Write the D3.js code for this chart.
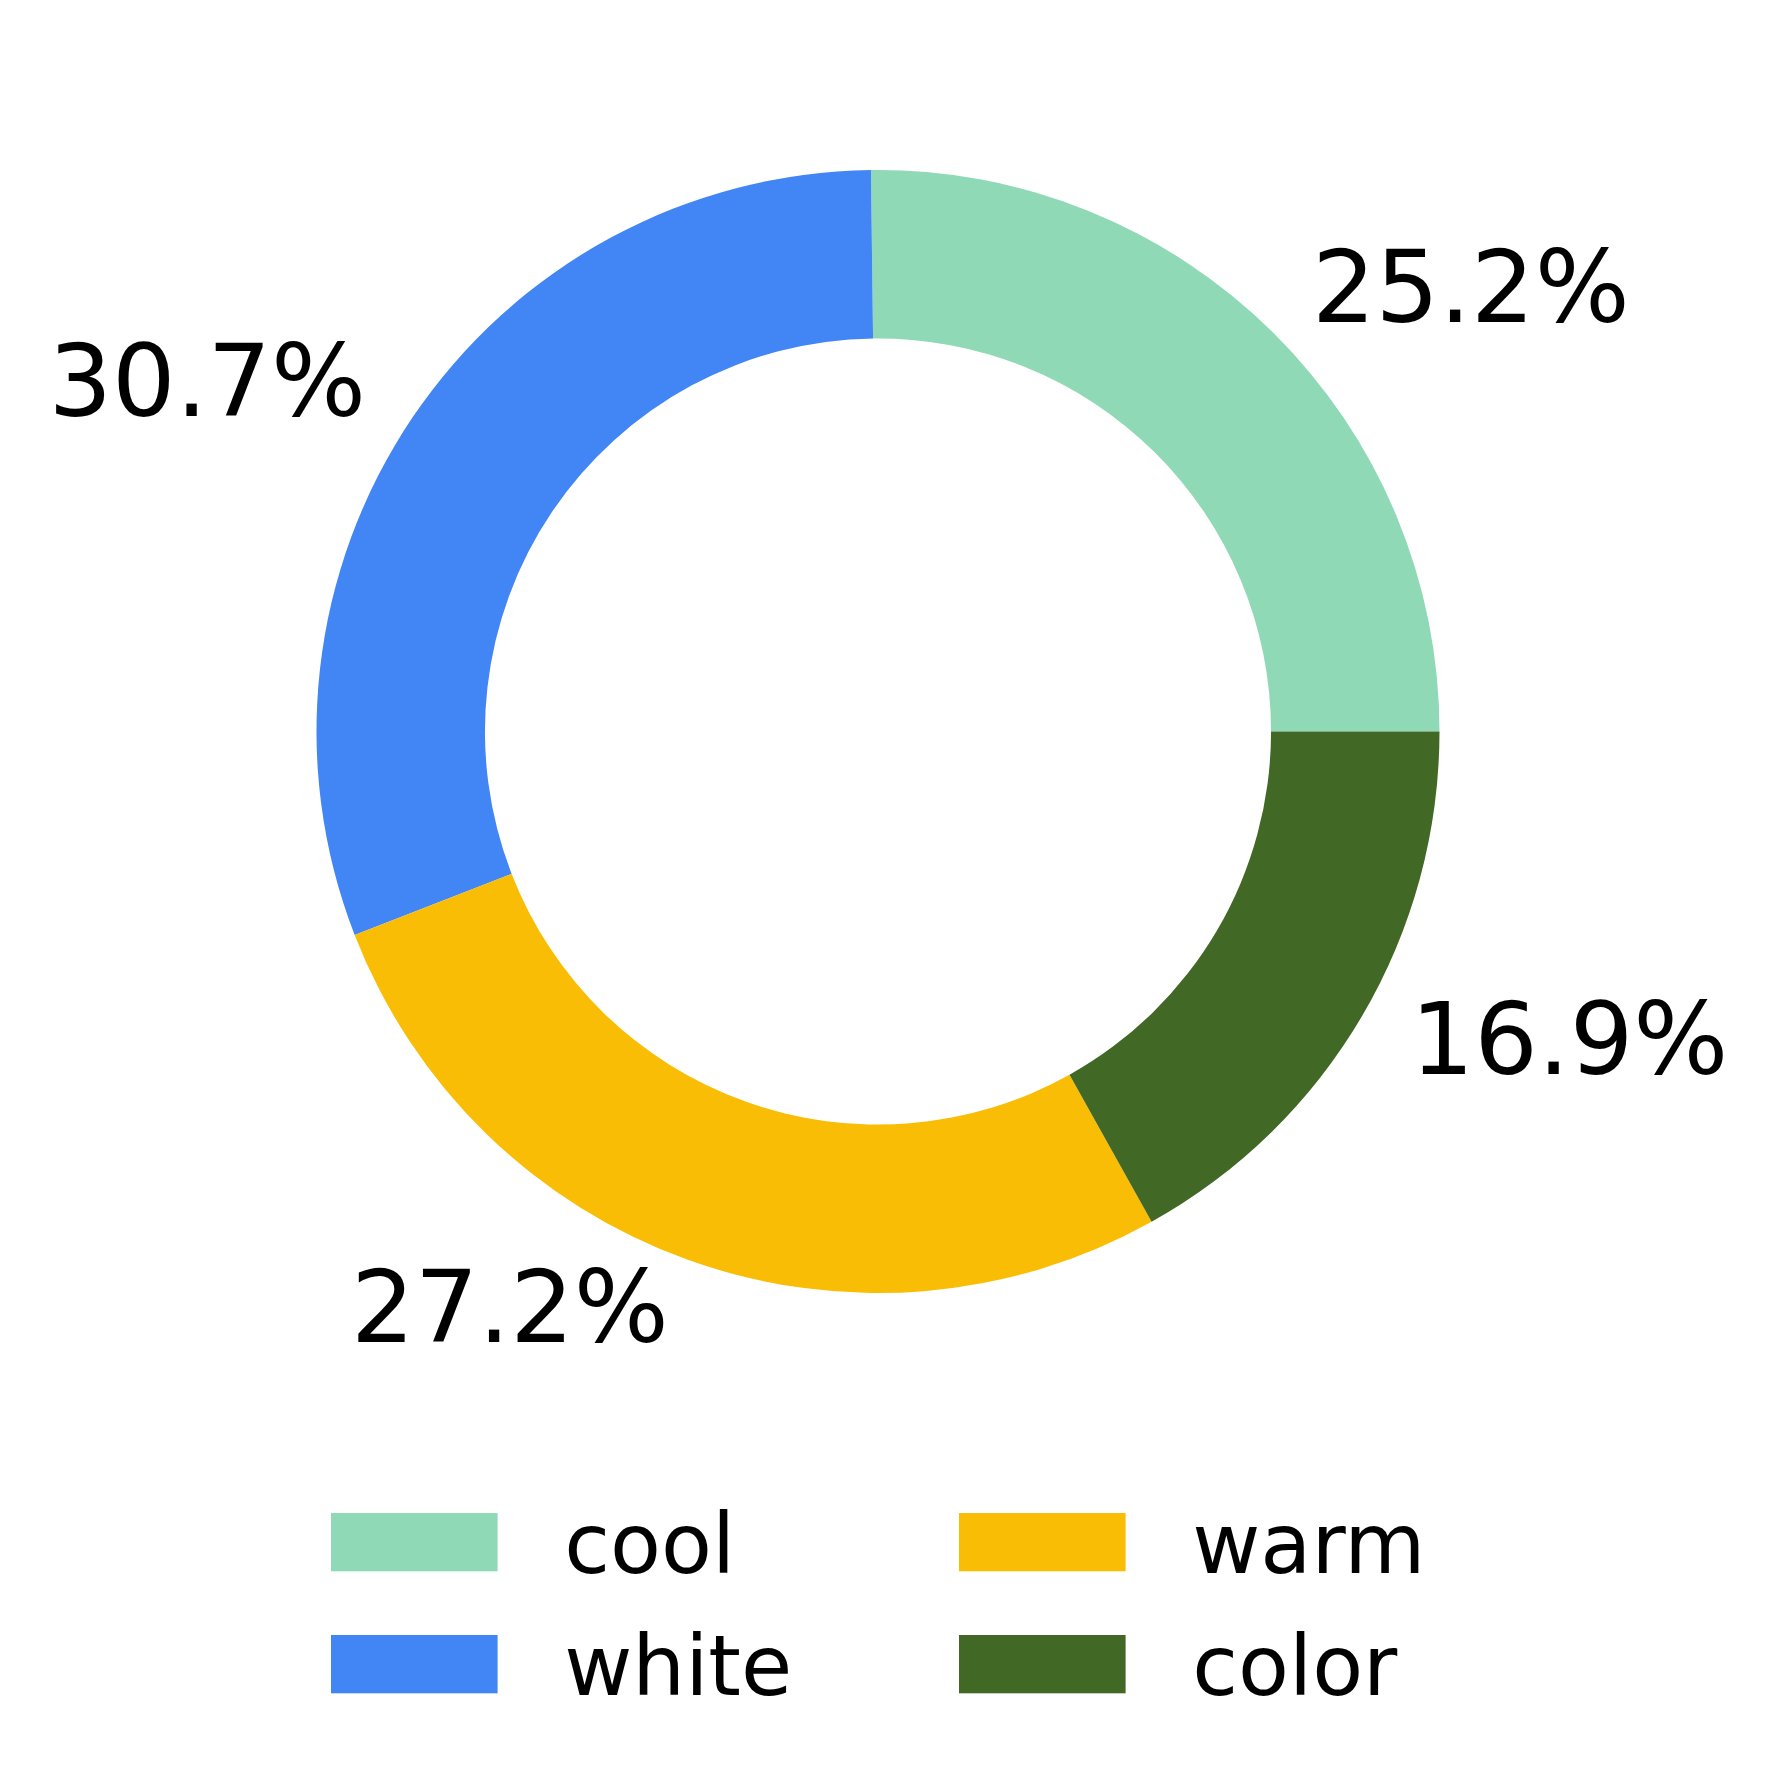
<!DOCTYPE html>
<html>
<head>
<meta charset="utf-8">
<script src="https://cdn.jsdelivr.net/npm/d3@7"></script>
<style>
  html, body { margin: 0; padding: 0; background: #fff; }
  svg { display: block; font-family: "DejaVu Sans", sans-serif; }
</style>
</head>
<body>
<script>
// data
const categories = ["cool", "white", "warm", "color"];
const shares = [25.2, 30.7, 27.2, 16.9];
const colors = ["#90d9b7", "#4285f4", "#fabd05", "#426826"];

const width = 1780, height = 1774;
const cx = 878, cy = 731.5;
const outerR = 561.5, innerR = outerR * 0.7;
const labelR = outerR * 1.1;
const labelSize = 100, legendSize = 83.3;

const svg = d3.select("body").append("svg")
  .attr("width", width)
  .attr("height", height)
  .attr("viewBox", [0, 0, width, height]);

const color = d3.scaleOrdinal(categories, colors);

// start at 3 o'clock, run counter-clockwise
const pie = d3.pie()
  .sort(null)
  .value(d => d.value)
  .startAngle(Math.PI / 2)
  .endAngle(Math.PI / 2 - 2 * Math.PI);

const data = categories.map((c, i) => ({ name: c, value: shares[i] }));
const arcs = pie(data);

const arc = d3.arc().innerRadius(innerR).outerRadius(outerR);

const g = svg.append("g").attr("transform", `translate(${cx},${cy})`);

g.selectAll("path")
  .data(arcs)
  .join("path")
  .attr("fill", d => color(d.data.name))
  .attr("d", arc);

const fmt = d3.format(".1f");
const mid = d => (d.startAngle + d.endAngle) / 2;
g.selectAll("text")
  .data(arcs)
  .join("text")
  .attr("x", d => Math.sin(mid(d)) * labelR)
  .attr("y", d => -Math.cos(mid(d)) * labelR + 0.297 * labelSize)
  .attr("text-anchor", d => Math.sin(mid(d)) > 0 ? "start" : "end")
  .attr("font-size", labelSize)
  .attr("fill", "#000")
  .text(d => fmt(d.data.value) + "%");

// legend, 2 columns filled column-first
const handleW = 2.0 * legendSize, handleH = 0.7 * legendSize;
const textPad = 0.8 * legendSize;
const legendX = [331, 959];
const legendTop = 1513, rowStep = 122;

const legend = svg.append("g");
const items = legend.selectAll("g")
  .data(categories)
  .join("g")
  .attr("transform", (d, i) =>
    `translate(${legendX[Math.floor(i / 2)]},${legendTop + (i % 2) * rowStep})`);

items.append("rect")
  .attr("width", handleW)
  .attr("height", handleH)
  .attr("fill", d => color(d));

items.append("text")
  .attr("x", handleW + textPad)
  .attr("y", handleH / 2 + 0.37 * legendSize)
  .attr("font-size", legendSize)
  .attr("fill", "#000")
  .text(d => d);
</script>
</body>
</html>
